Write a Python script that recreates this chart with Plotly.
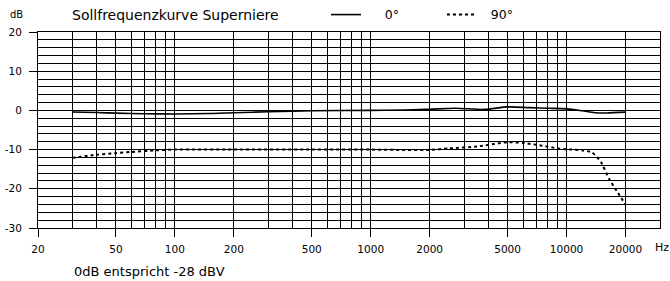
import plotly.graph_objects as go

# ---- data ----
freq_0 = [30, 40, 50, 70, 100, 150, 200, 300, 500, 1000, 1500, 2000, 2700, 3800, 5000, 6500, 8000, 10000, 12000, 14000, 16000, 20000]
resp_0 = [-0.4, -0.55, -0.7, -0.85, -0.9, -0.8, -0.6, -0.35, -0.1, 0.0, 0.1, 0.3, 0.55, 0.25, 0.9, 0.7, 0.55, 0.4, -0.1, -0.6, -0.65, -0.45]

freq_90 = [30, 40, 50, 60, 80, 100, 200, 500, 1000, 1500, 2000, 2500, 3500, 4500, 5000, 6000, 7500, 9000, 10000, 12000, 13500, 15000, 16500, 18000, 20000]
resp_90 = [-12.1, -11.3, -10.9, -10.6, -10.2, -10.0, -10.0, -10.0, -10.0, -10.1, -10.1, -9.7, -9.2, -8.4, -8.1, -8.3, -9.0, -9.7, -9.9, -10.2, -10.7, -13.2, -17.5, -20.5, -24.0]

x_major = [20, 50, 100, 200, 500, 1000, 2000, 5000, 10000, 20000]
x_major_text = ["20", "50", "100", "200", "500", "1000", "2000", "5000", "10000", "20000"]
x_minor = [m * 10 ** e for e in range(1, 5) for m in range(1, 10)]
x_minor = [v for v in x_minor if 20 <= v <= 30000]

y_major = [20, 10, 0, -10, -20, -30]
y_minor = list(range(-30, 21, 2))

title_text = "Sollfrequenzkurve Superniere"
note_text = "0dB entspricht -28 dBV"

FONT = "DejaVu Sans"

fig = go.Figure()
fig.add_trace(go.Scatter(x=freq_0, y=resp_0, mode="lines", name="\u2003\u20020°",
                         line=dict(color="black", width=1.6, shape="spline", smoothing=0.8)))
fig.add_trace(go.Scatter(x=freq_90, y=resp_90, mode="lines", name="\u2002\u200990°",
                         line=dict(color="black", width=2, dash="dot", shape="spline", smoothing=0.5)))

fig.update_layout(
    width=670, height=281,
    margin=dict(l=38, r=10, t=32, b=53, autoexpand=False),
    paper_bgcolor="white", plot_bgcolor="white",
    font=dict(family=FONT, size=11, color="black"),
    showlegend=True,
    legend=dict(orientation="h", x=0.463, y=1.087, xanchor="left", yanchor="middle",
                font=dict(family=FONT, size=12.5), entrywidth=71, entrywidthmode="pixels",
                bgcolor="rgba(0,0,0,0)", itemwidth=30),
)

fig.update_xaxes(
    type="log", range=[1.30103, 4.4771], automargin=False,
    tickmode="array", tickvals=x_major, ticktext=x_major_text,
    ticks="outside", ticklen=8, tickcolor="black", tickwidth=1,
    showgrid=True, gridcolor="black", gridwidth=1,
    minor=dict(tickmode="array", tickvals=x_minor, showgrid=True, gridcolor="black", gridwidth=1, ticks=""),
    showline=True, linecolor="black", linewidth=1, mirror=True,
    zeroline=False, ticklabelstandoff=3,
    tickfont=dict(family=FONT, size=10.5),
)
fig.update_yaxes(
    range=[-30, 20], automargin=False,
    tickmode="array", tickvals=y_major, ticktext=[str(v) for v in y_major],
    ticks="outside", ticklen=8, tickcolor="black", tickwidth=1,
    showgrid=True, gridcolor="black", gridwidth=1,
    minor=dict(tickmode="array", tickvals=y_minor, showgrid=True, gridcolor="black", gridwidth=1, ticks=""),
    showline=True, linecolor="black", linewidth=1, mirror=True,
    zeroline=False, ticklabelstandoff=5,
    tickfont=dict(family=FONT, size=10.5),
)

fig.add_annotation(text=title_text, xref="paper", yref="paper", x=0.051, y=1.087,
                   xanchor="left", yanchor="middle", showarrow=False,
                   font=dict(family=FONT, size=14))
fig.add_annotation(text="dB", xref="paper", yref="paper", x=-0.048, y=1.087,
                   xanchor="left", yanchor="middle", showarrow=False,
                   font=dict(family=FONT, size=10))
fig.add_annotation(text="Hz", xref="paper", yref="paper", x=1.0, y=-0.097,
                   xanchor="left", yanchor="middle", showarrow=False, xshift=-7,
                   font=dict(family=FONT, size=11))
fig.add_annotation(text=note_text, xref="paper", yref="paper", x=0.055, y=-0.224,
                   xanchor="left", yanchor="middle", showarrow=False,
                   font=dict(family=FONT, size=13))

# remove the default page margin so the figure fills the 670x281 window exactly
fig.write_html(
    "out.html",
    config={"displayModeBar": False},
    post_script="document.body.style.margin='0';document.body.style.overflow='hidden';",
)
